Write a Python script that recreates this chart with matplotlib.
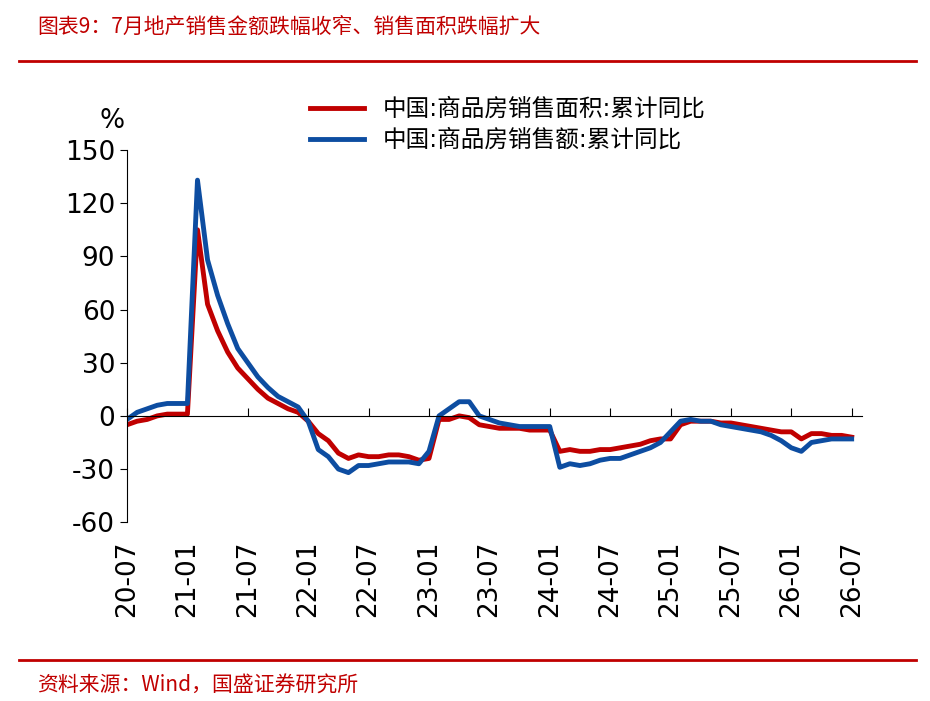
import matplotlib
matplotlib.use('Agg')
import matplotlib.pyplot as plt
import numpy as np
import pandas as pd

plt.rcParams['font.family'] = ['DejaVu Sans', 'Noto Sans CJK SC']
plt.rcParams['axes.unicode_minus'] = False

# monthly, 2020-07 .. 2026-07
area_yoy = [-5, -3, -2, 0, 1, 1,
            1, 105, 63, 48, 36, 27, 21, 15, 10, 7, 4, 2,
            -3, -10, -14, -21, -24, -22, -23, -23, -22, -22, -23, -25,
            -24, -2, -2, 0, -1, -5, -6, -7, -7, -7, -8, -8,
            -8, -20, -19, -20, -20, -19, -19, -18, -17, -16, -14, -13,
            -13, -5, -3, -3, -3, -4, -4, -5, -6, -7, -8, -9,
            -9, -13, -10, -10, -11, -11, -12]
sales_yoy = [-2, 2, 4, 6, 7, 7,
             7, 133, 88, 68, 52, 38, 30, 22, 16, 11, 8, 5,
             -3, -19, -23, -30, -32, -28, -28, -27, -26, -26, -26, -27,
             -20, 0, 4, 8, 8, 0, -2, -4, -5, -6, -6, -6,
             -6, -29, -27, -28, -27, -25, -24, -24, -22, -20, -18, -15,
             -9, -3, -2, -3, -3, -5, -6, -7, -8, -9, -11, -14,
             -18, -20, -15, -14, -13, -13, -13]
months = pd.date_range('2020-07-01', periods=len(area_yoy), freq='MS')
tick_labels = ['20-07', '21-01', '21-07', '22-01', '22-07', '23-01', '23-07',
               '24-01', '24-07', '25-01', '25-07', '26-01', '26-07']

red = '#C00000'
blue = '#0D4DA1'
x = np.arange(len(months))

fig = plt.figure(figsize=(9.3, 7.01), dpi=100)
ax = fig.add_axes([0.1366, 0.255, 0.79, 0.531])
ax.plot(x, area_yoy, color=red, lw=3.5, solid_joinstyle='round',
        label='中国:商品房销售面积:累计同比')
ax.plot(x, sales_yoy, color=blue, lw=3.5, solid_joinstyle='round',
        label='中国:商品房销售额:累计同比')

ax.set_ylim(-60, 150)
ax.set_xlim(0, x[-1] + 1)
ax.set_yticks(range(-60, 151, 30))
ax.tick_params(axis='y', labelsize=19, direction='out', length=5)
ax.spines['top'].set_visible(False)
ax.spines['right'].set_visible(False)
ax.spines['bottom'].set_position(('data', 0))
ax.set_xticks(x[::6])
ax.set_xticklabels([])
ax.tick_params(axis='x', direction='in', length=6)
for xi, lab in zip(x[::6], tick_labels):
    ax.text(xi, -0.05, lab, transform=ax.get_xaxis_transform(), rotation=90,
            ha='center', va='top', fontsize=19)
ax.text(-0.02, 1.06, '%', transform=ax.transAxes, fontsize=19, ha='center')

ax.legend(loc='upper left', bbox_to_anchor=(0.22, 1.2), frameon=False,
          handlelength=2.3, labelspacing=0.3,
          prop={'family': ['DejaVu Sans', 'Noto Sans CJK SC'], 'size': 17})

fig.text(0.04, 0.953, '图表9：7月地产销售金额跌幅收窄、销售面积跌幅扩大', color=red,
         fontsize=15, style='italic', family=['Noto Sans CJK SC'])
fig.add_artist(plt.Line2D([0.02, 0.985], [0.913, 0.913], color=red, lw=2))
fig.add_artist(plt.Line2D([0.02, 0.985], [0.058, 0.058], color=red, lw=2))
fig.text(0.04, 0.013, '资料来源：Wind，国盛证券研究所', color=red,
         fontsize=15, style='italic', family=['Noto Sans CJK SC'])

fig.savefig('out.png', dpi=100)
